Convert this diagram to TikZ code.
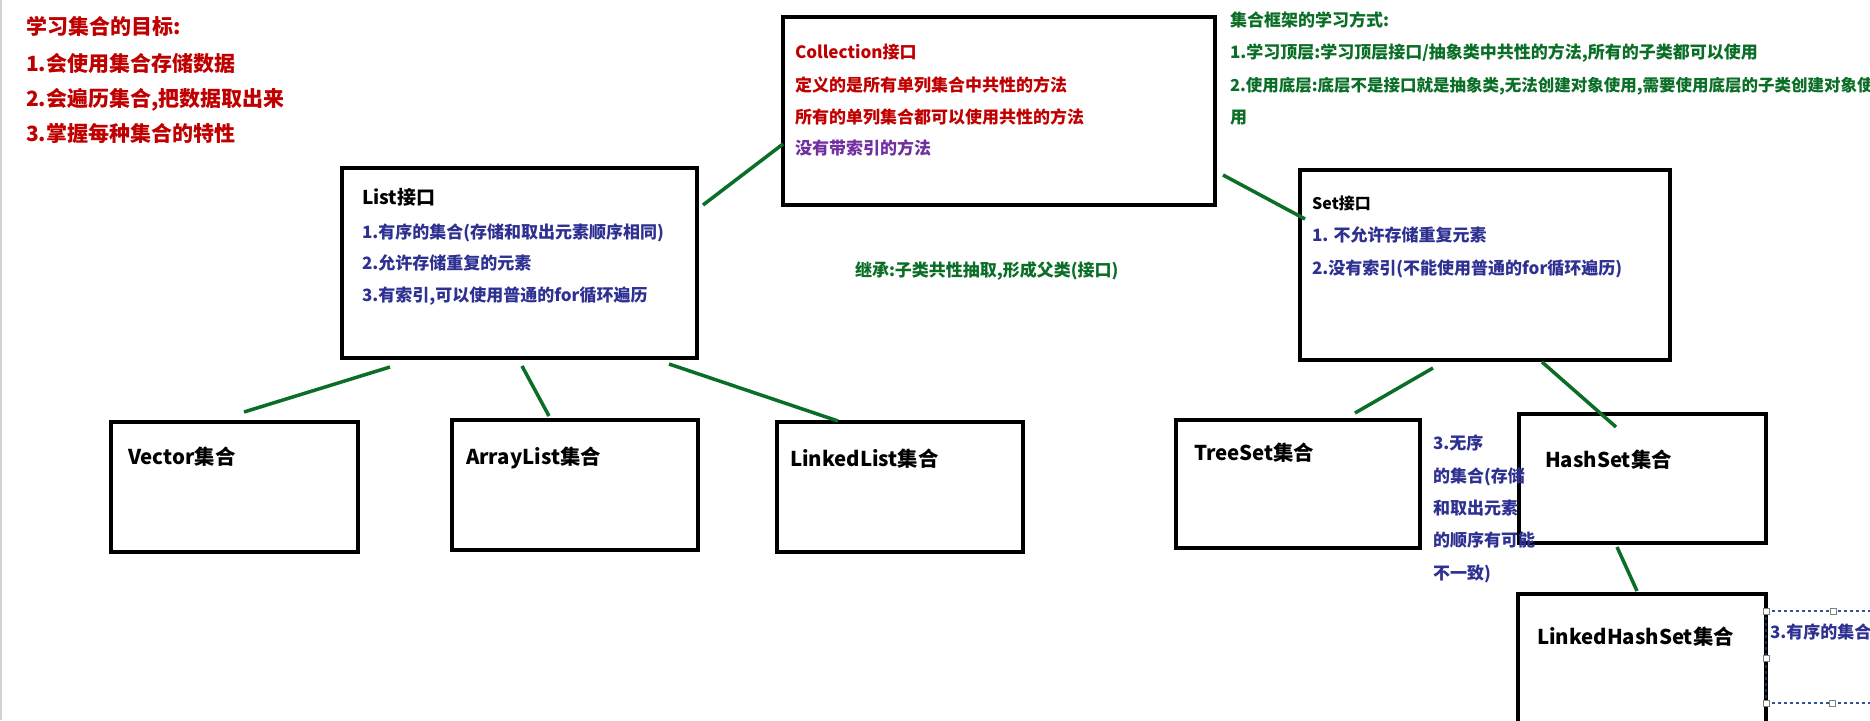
\documentclass[tikz,border=0pt]{standalone}
\usepackage{fontspec}
\setmainfont{Noto Sans CJK SC}
\definecolor{tred}{HTML}{C00000}
\definecolor{tpurple}{HTML}{7030A0}
\definecolor{tblue}{HTML}{2E3192}
\definecolor{tgreen}{HTML}{0A6E26}
\definecolor{selblue}{HTML}{2F5597}
\begin{document}
\begin{tikzpicture}[x=1pt,y=-1pt,
  box/.style={draw=black, line width=4.2pt, rectangle, inner sep=0pt, outer sep=0pt},
  link/.style={draw=tgreen, line width=3.5pt},
  txt/.style={anchor=base west, inner sep=0pt, outer sep=0pt, font=\bfseries\fontsize{17}{20}\selectfont},
  big/.style={anchor=base west, inner sep=0pt, outer sep=0pt, font=\bfseries\fontsize{20.4}{24}\selectfont},
  goal/.style={anchor=base west, inner sep=0pt, outer sep=0pt, text=tred, font=\bfseries\fontsize{21}{24}\selectfont},
  handle/.style={draw=gray, fill=white, line width=0.8pt}
]
\useasboundingbox (0,0) rectangle (1870,720);
\clip (0,0) rectangle (1870,720);
\fill[white] (0,0) rectangle (1870,720);
\draw[gray!35, line width=2pt] (1,0) -- (1,720);

% boxes
\node[box, minimum width=432pt, minimum height=188pt] (coll) at (999,111) {};
\node[box, minimum width=355pt, minimum height=190pt] (list) at (519.5,263) {};
\node[box, minimum width=370pt, minimum height=190pt] (set) at (1485,265) {};
\node[box, minimum width=247pt, minimum height=130pt] (vector) at (234.5,487) {};
\node[box, minimum width=246pt, minimum height=130pt] (arraylist) at (575,485) {};
\node[box, minimum width=246pt, minimum height=130pt] (linkedlist) at (900,487) {};
\node[box, minimum width=244pt, minimum height=128pt] (treeset) at (1298,484) {};
\node[box, minimum width=247pt, minimum height=129pt] (hashset) at (1642.5,478.5) {};
\node[box, minimum width=248pt, minimum height=132pt] (lhs) at (1642,660) {};

% connector end points
\coordinate (lc1) at (703,205); \coordinate (lc2) at (783,144);
\coordinate (cs1) at (1223,175); \coordinate (cs2) at (1305,219);
\coordinate (lv1) at (390,367); \coordinate (lv2) at (244,412);
\coordinate (la1) at (522,366); \coordinate (la2) at (549,416);
\coordinate (ll1) at (669,364); \coordinate (ll2) at (838,421);
\coordinate (st1) at (1433,368); \coordinate (st2) at (1355,413);
\coordinate (sh1) at (1542,362); \coordinate (sh2) at (1616,427);
\coordinate (hl1) at (1617,547); \coordinate (hl2) at (1637,591);

\draw[link] (lc1) -- (lc2);
\draw[link] (cs1) -- (cs2);
\draw[link] (lv1) -- (lv2);
\draw[link] (la1) -- (la2);
\draw[link] (ll1) -- (ll2);
\draw[link] (st1) -- (st2);
\draw[link] (sh1) -- (sh2);
\draw[link] (hl1) -- (hl2);

% top-left goals
\node[goal] (g0) at (26,34) {学习集合的目标:};
\node[goal] (g1) at (26,71) {1.会使用集合存储数据};
\node[goal] (g2) at (26,106) {2.会遍历集合,把数据取出来};
\node[goal] (g3) at (26,141) {3.掌握每种集合的特性};

% Collection
\node[txt, text=tred] (c0) at (795,58) {Collection接口};
\node[txt, text=tred] (c1) at (795,91) {定义的是所有单列集合中共性的方法};
\node[txt, text=tred] (c2) at (795,123) {所有的单列集合都可以使用共性的方法};
\node[txt, text=tpurple] (c3) at (795,154) {没有带索引的方法};

% right green notes
\node[txt, text=tgreen] (r0) at (1230,26) {集合框架的学习方式:};
\node[txt, text=tgreen] (r1) at (1230,58) {1.学习顶层:学习顶层接口/抽象类中共性的方法,所有的子类都可以使用};
\node[txt, text=tgreen, font=\bfseries\fontsize{16.5}{20}\selectfont] (r2) at (1230,91) {2.使用底层:底层不是接口就是抽象类,无法创建对象使用,需要使用底层的子类创建对象使};
\node[txt, text=tgreen] (r3) at (1230,123) {用};

% middle green
\node[txt, text=tgreen] (inh) at (855,276) {继承:子类共性抽取,形成父类(接口)};

% List
\node[anchor=base west, inner sep=0pt, font=\bfseries\fontsize{19}{22}\selectfont] (l0) at (362,204) {List接口};
\node[txt, text=tblue] (l1) at (362,238) {1.有序的集合(存储和取出元素顺序相同)};
\node[txt, text=tblue] (l2) at (362,269) {2.允许存储重复的元素};
\node[txt, text=tblue] (l3) at (362,301) {3.有索引,可以使用普通的for循环遍历};

% Set
\node[anchor=base west, inner sep=0pt, font=\bfseries\fontsize{16}{20}\selectfont] (s0) at (1312,209) {Set接口};
\node[txt, text=tblue] (s1) at (1312,241) {1. 不允许存储重复元素};
\node[txt, text=tblue] (s2) at (1312,274) {2.没有索引(不能使用普通的for循环遍历)};

% box labels
\node[big] (tv) at (128,464) {Vector集合};
\node[big] (ta) at (466,464) {ArrayList集合};
\node[big] (tl) at (790,466) {LinkedList集合};
\node[big] (tt) at (1194,460) {TreeSet集合};
\node[big] (th) at (1545,467) {HashSet集合};
\node[big] (tlh) at (1537,644) {LinkedHashSet集合};

% TreeSet / HashSet note
\node[txt, text=tblue] (u1) at (1433,449) {3.无序};
\node[txt, text=tblue] (u2) at (1433,482) {的集合(存储};
\node[txt, text=tblue] (u3) at (1433,514) {和取出元素};
\node[txt, text=tblue] (u4) at (1433,546) {的顺序有可能};
\node[txt, text=tblue] (u5) at (1433,579) {不一致)};

% LinkedHashSet note with selection frame
\draw[selblue, dashed, line width=1.5pt] (1766,611) -- (1880,611);
\draw[selblue, dashed, line width=1.5pt] (1766,703) -- (1880,703);
\draw[selblue!60!black, dashed, line width=1.5pt] (1766,611) -- (1766,703);
\node[txt, text=tblue] (o1) at (1770,638) {3.有序的集合};
\filldraw[handle] (1763,608) rectangle (1769,614);
\filldraw[handle] (1830,608) rectangle (1836,614);
\filldraw[handle] (1763,655) rectangle (1769,661);
\filldraw[handle] (1763,700) rectangle (1769,706);
\filldraw[handle] (1829,700) rectangle (1835,706);
\end{tikzpicture}
\end{document}
